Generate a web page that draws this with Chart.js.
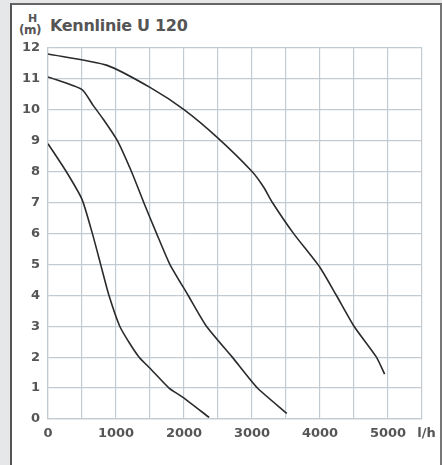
<!DOCTYPE html>
<html><head><meta charset="utf-8">
<script src="https://cdn.jsdelivr.net/npm/chart.js@4"></script>
<style>
html,body{margin:0;padding:0;background:#e6e7e9;width:442px;height:465px;overflow:hidden;}
#panel{position:absolute;left:10px;top:3px;width:428px;height:470px;background:#fff;border-left:2px solid #555;border-top:2px solid #666;border-right:2px solid #777;}
#wrap{position:absolute;left:0;top:32px;width:450px;height:433px;}
.t{position:absolute;font-family:"DejaVu Sans",sans-serif;font-weight:700;color:#555;white-space:nowrap;}
</style></head><body>
<div id="panel"></div>
<div class="t" style="left:28px;top:13px;font-size:11px;line-height:11px;">H</div>
<div class="t" style="left:19px;top:24px;font-size:12px;line-height:12px;letter-spacing:-0.5px;">(m)</div>
<div class="t" style="left:50px;top:17px;font-size:16px;line-height:18px;letter-spacing:-0.3px;">Kennlinie U 120</div>
<div id="wrap"><canvas id="c"></canvas></div>
<script>
const xTicks = [0, 1000, 2000, 3000, 4000, 5000];
const xUnit = "l/h";
const yTicks = [0,1,2,3,4,5,6,7,8,9,10,11,12];
const curve1X = [0, 268, 500, 652, 774, 896, 1055, 1200, 1340, 1500, 1780, 1985, 2370];
const curve1Y = [8.9, 8.0, 7.1, 6.0, 5.0, 4.0, 3.0, 2.45, 2.0, 1.64, 1.0, 0.7, 0.05];
const curve2X = [0, 500, 666, 810, 1020, 1227, 1408, 1596, 1792, 2060, 2330, 2710, 3080, 3513];
const curve2Y = [11.06, 10.65, 10.13, 9.7, 9.0, 8.0, 7.0, 6.0, 5.0, 4.0, 3.0, 2.0, 1.0, 0.18];
const curve3X = [0, 860, 1500, 2000, 2500, 3000, 3170, 3300, 3610, 4000, 4240, 4500, 4830, 4950];
const curve3Y = [11.8, 11.44, 10.72, 10.0, 9.08, 8.0, 7.5, 7.0, 6.0, 4.9, 4.0, 3.0, 2.0, 1.45];

const pts = (xs, ys) => xs.map((x, i) => ({x, y: ys[i]}));
const ds = (xs, ys) => ({data: pts(xs, ys), borderColor:'#2b2b2b', borderWidth:1.6, pointRadius:0, tension:0.2, fill:false});
const font = {family:'"DejaVu Sans", sans-serif', weight:'bold', size:13};
new Chart(document.getElementById('c'), {
  type:'line',
  data:{datasets:[ds(curve1X,curve1Y), ds(curve2X,curve2Y), ds(curve3X,curve3Y)]},
  options:{
    responsive:true, maintainAspectRatio:false, animation:false,
    layout:{padding:{left:0,right:28,top:10,bottom:0}},
    plugins:{legend:{display:false}, tooltip:{enabled:false}},
    scales:{
      x:{type:'linear', min:0, max:5500,
        grid:{color:'#c3cbd2', lineWidth:1.2, drawTicks:false},
        border:{color:'#c3cbd2', width:1.2},
        afterBuildTicks: s => { s.ticks = []; for (let v=0; v<=5500; v+=500) s.ticks.push({value:v}); },
        ticks:{padding:7, color:'#555', font, maxRotation:0, autoSkip:false,
          callback: v => xTicks.includes(v) ? String(v) : (v===5500 ? '  ' + xUnit : '')},
        afterFit: s => { s.height = 46; }
      },
      y:{type:'linear', min:0, max:12,
        grid:{color:'#c3cbd2', lineWidth:1.2, drawTicks:false},
        border:{color:'#c3cbd2', width:1.2},
        afterBuildTicks: s => { s.ticks = yTicks.map(v => ({value:v})); },
        ticks:{padding:8, color:'#555', font},
        afterFit: s => { s.width = 48; }
      }
    }
  }
});
</script></body></html>
